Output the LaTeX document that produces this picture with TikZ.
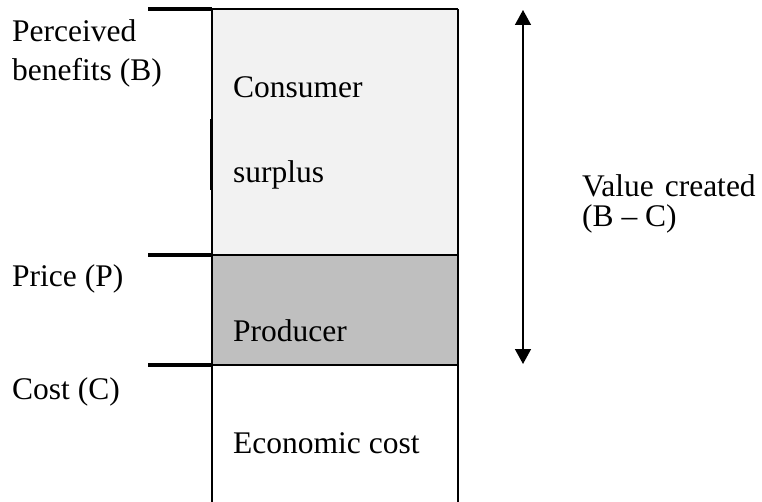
\documentclass[tikz,border=0pt]{standalone}
\usepackage{fontspec}
\setmainfont{Liberation Serif}
\usetikzlibrary{arrows.meta}
\definecolor{consumerfill}{HTML}{F2F2F2}
\definecolor{producerfill}{HTML}{BFBFBF}
\begin{document}
\begin{tikzpicture}[x=1bp,y=-1bp,
  lbl/.style={anchor=base west,inner sep=0pt,font=\fontsize{31.5bp}{36bp}\selectfont},
  tickline/.style={line width=4bp},
  boxline/.style={line width=1.2bp},
  heavyline/.style={line width=2bp},
  valuearrow/.style={line width=1.5bp,{Triangle[length=15bp,width=16bp]}-{Triangle[length=15bp,width=16bp]}}]
\useasboundingbox (0,0) rectangle (762,502);

% corner and level coordinates of the value bar
\coordinate (tl) at (212,9);
\coordinate (tr) at (458,9);
\coordinate (pl) at (212,255);
\coordinate (pr) at (458,255);
\coordinate (cl) at (212,365);
\coordinate (cr) at (458,365);
\coordinate (bl) at (212,502);
\coordinate (br) at (458,502);
\coordinate (tickB) at (148,9);
\coordinate (tickP) at (148,255);
\coordinate (tickC) at (148,365);
\coordinate (markA) at (211,119);
\coordinate (markB) at (211,190);
\coordinate (arrTop) at (523,10);
\coordinate (arrBot) at (523,364);

% shaded bands
\fill[consumerfill] (tl) rectangle (pr);
\fill[producerfill] (pl) rectangle (cr);

% outline of the bar
\draw[boxline] (tl) -- (tr);
\draw[boxline] (tl) -- (bl);
\draw[heavyline] (tr) -- (br);
\draw[heavyline] (pl) -- (pr);
\draw[heavyline] (cl) -- (cr);
\draw[line width=1.5bp] (markA) -- (markB);

% level ticks
\draw[tickline] (tickB) -- (tl);
\draw[tickline] (tickP) -- (pl);
\draw[tickline] (tickC) -- (cl);

% value created span
\draw[valuearrow] (arrTop) -- (arrBot);

% labels
\node[lbl] (perc) at (12,42) {Perceived};
\node[lbl] (bene) at (12,81) {benefits (B)};
\node[lbl] (price) at (12,287) {Price (P)};
\node[lbl] (cost) at (12,399) {Cost (C)};
\node[lbl] (cons) at (233,98) {Consumer};
\node[lbl] (surp) at (233,183) {surplus};
\node[lbl] (prod) at (233,341) {Producer};
\node[lbl] (econ) at (233,453) {Economic cost};
\node[lbl] (valc) at (582,197) {Value\hspace{3bp} created};
\node[lbl] (bmc) at (582,227) {(B – C)};
\end{tikzpicture}
\end{document}
